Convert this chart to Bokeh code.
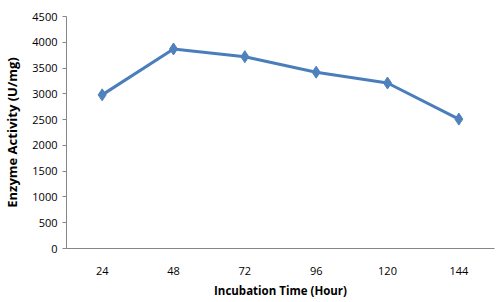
from bokeh.plotting import figure
from bokeh.models import ColumnDataSource, FactorRange, Range1d, FixedTicker
from bokeh.embed import file_html
from bokeh.resources import INLINE

hours = ["24", "48", "72", "96", "120", "144"]
activity = [2980, 3870, 3720, 3420, 3210, 2510]
y_ticks = [0, 500, 1000, 1500, 2000, 2500, 3000, 3500, 4000, 4500]

src = ColumnDataSource(dict(x=hours, y=activity))

p = figure(width=500, height=302, x_range=FactorRange(*hours), y_range=Range1d(0, 4500),
           output_backend="svg", toolbar_location=None,
           min_border_left=66, min_border_right=6, min_border_top=16, min_border_bottom=54)
p.outline_line_color = None
p.xgrid.grid_line_color = None
p.ygrid.grid_line_color = None
p.x_range.range_padding = 0

p.line("x", "y", source=src, line_color="#4A7EBB", line_width=3)
p.scatter("x", "y", source=src, marker="diamond", size=12, fill_color="#4F81BD", line_color="#4F81BD")

font = "Open Sans"
for ax in (p.xaxis[0], p.yaxis[0]):
    ax.axis_line_color = "#868686"
    ax.major_label_text_font = font
    ax.major_label_text_font_size = "11px"
    ax.major_label_text_color = "#000000"
    ax.axis_label_text_font = font
    ax.axis_label_text_font_style = "bold"
    ax.axis_label_text_color = "#000000"
    ax.minor_tick_line_color = None

p.yaxis.ticker = FixedTicker(ticks=y_ticks)
p.yaxis.major_tick_line_color = "#868686"
p.yaxis.major_tick_out = 4
p.yaxis.major_tick_in = 0
p.yaxis.major_label_standoff = 5
p.yaxis.axis_label = "Enzyme Activity (U/mg)"
p.yaxis.axis_label_text_font_size = "13px"
p.yaxis.axis_label_standoff = 8

p.xaxis.major_tick_line_color = None
p.xaxis.major_label_standoff = 12
p.xaxis.axis_label = "Incubation Time (Hour)"
p.xaxis.axis_label_text_font_size = "11.5px"
p.xaxis.axis_label_standoff = 5

open("out.html", "w").write(file_html(p, INLINE))
